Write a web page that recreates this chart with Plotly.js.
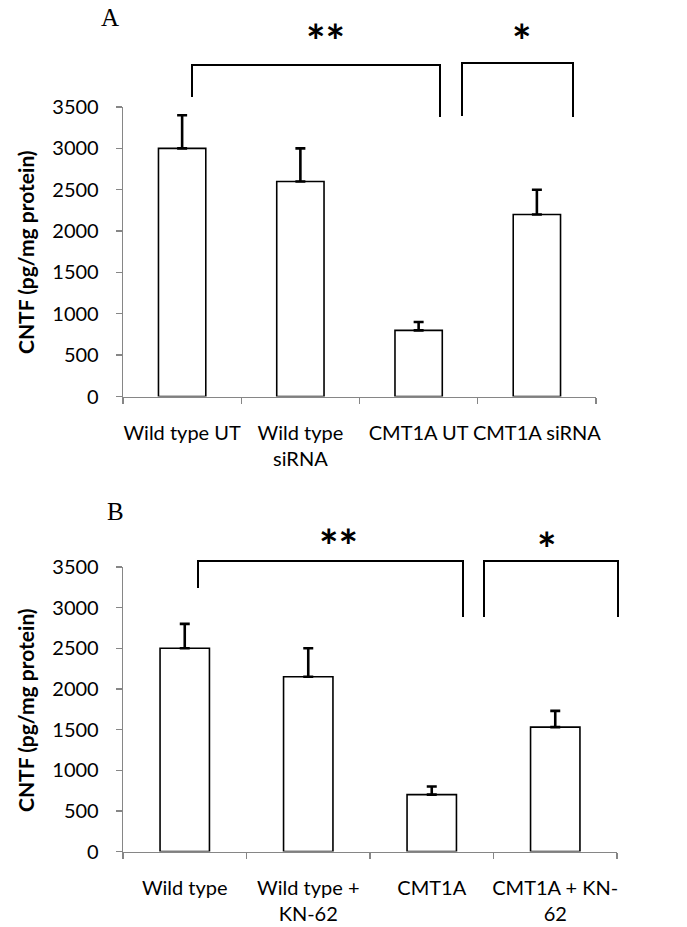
<!DOCTYPE html>
<html>
<head>
<meta charset="utf-8">
<script src="https://cdn.plot.ly/plotly-3.0.1.min.js"></script>
<style>html,body{margin:0;padding:0;background:#fff;}#chart{width:687px;height:927px;}</style>
</head>
<body>
<div id="chart"></div>
<script>
// ---- data ----
const categoriesA = ['Wild type UT', 'Wild type<br>siRNA', 'CMT1A UT', 'CMT1A siRNA'];
const valuesA = [3000, 2600, 800, 2200];
const errorsA = [400, 400, 100, 300];

const categoriesB = ['Wild type', 'Wild type +<br>KN-62', 'CMT1A', 'CMT1A + KN-<br>62'];
const valuesB = [2500, 2150, 700, 1530];
const errorsB = [300, 350, 100, 200];

const yTickVals = [0, 500, 1000, 1500, 2000, 2500, 3000, 3500];
const yTitle = 'CNTF (pg/mg protein)';
const panelLabels = ['A', 'B'];
const sigLabels = ['**', '*'];

// ---- layout helpers (pixel -> paper) ----
const W = 687, H = 927;
const px = x => x / W;
const py = y => 1 - y / H;

const axisGray = '#868686';
const tickFont = {family: 'Lato, sans-serif', size: 20, color: '#000'};

function barTrace(cats, vals, errs, xa, ya) {
  return {
    type: 'bar', x: cats, y: vals, xaxis: xa, yaxis: ya,
    marker: {color: '#ffffff', line: {color: '#000', width: 1.6}},
    error_y: {type: 'data', array: errs, arrayminus: errs.map(() => 0), symmetric: false,
              color: '#000', thickness: 2.6, width: 5},
    hoverinfo: 'none', showlegend: false
  };
}

function yAxis(domain) {
  return {
    domain: domain, range: [0, 3500], tickvals: yTickVals, ticktext: yTickVals.map(String),
    showline: true, linecolor: axisGray, linewidth: 1.3, ticks: 'outside', ticklen: 6,
    tickcolor: axisGray, tickwidth: 1.3, showgrid: false, zeroline: false,
    tickfont: tickFont, ticklabelstandoff: 13, fixedrange: true
  };
}
function xAxis(domain, cats, anchor) {
  return {
    domain: domain, anchor: anchor, type: 'category', categoryorder: 'array', categoryarray: cats,
    showline: true, linecolor: axisGray, linewidth: 1.3, ticks: 'outside', ticklen: 6,
    tickcolor: axisGray, tickwidth: 1.3, tickson: 'boundaries', showgrid: false, zeroline: false,
    tickfont: tickFont, tickangle: 0, ticklabelstandoff: 18, fixedrange: true
  };
}

const data = [
  barTrace(categoriesA, valuesA, errorsA, 'x', 'y'),
  barTrace(categoriesB, valuesB, errorsB, 'x2', 'y2')
];

const lineStyle = {color: '#000', width: 2};
function bracket(x1, yb1, ytop, x2, yb2) {
  return {type: 'path', xref: 'paper', yref: 'paper', line: lineStyle,
    path: `M${px(x1)},${py(yb1)} L${px(x1)},${py(ytop)} L${px(x2)},${py(ytop)} L${px(x2)},${py(yb2)}`};
}

function txt(text, x, y, font, extra) {
  return Object.assign({text: text, x: px(x), y: py(y), xref: 'paper', yref: 'paper',
    showarrow: false, xanchor: 'center', yanchor: 'middle', font: font}, extra || {});
}

const serif = {family: '"Liberation Serif", "Times New Roman", serif', size: 25, color: '#000'};
const starFont = {family: 'Lato, sans-serif', size: 46, color: '#000', weight: 'bold'};
const titleFont = {family: 'Lato, sans-serif', size: 21, color: '#000', weight: 'bold'};

const layout = {
  width: W, height: H, margin: {l: 0, r: 0, t: 0, b: 0},
  paper_bgcolor: '#fff', plot_bgcolor: '#fff', bargap: 0.6, showlegend: false,
  xaxis: xAxis([px(123), px(596)], categoriesA, 'y'),
  yaxis: yAxis([py(396.5), py(107)]),
  xaxis2: xAxis([px(123), px(617)], categoriesB, 'y2'),
  yaxis2: yAxis([py(851.5), py(567)]),
  shapes: [
    bracket(192, 97, 65, 440, 117),
    bracket(462, 116, 63, 573, 117),
    bracket(198, 588, 561, 463, 617),
    bracket(484, 617, 561, 618, 617)
  ],
  annotations: [
    txt(panelLabels[0], 110, 18, serif),
    txt(panelLabels[1], 115, 512, serif),
    txt(sigLabels[0], 325, 41, starFont),
    txt(sigLabels[1], 522, 41, starFont),
    txt(sigLabels[0], 338, 545, starFont),
    txt(sigLabels[1], 547, 548, starFont),
    txt('<b>' + yTitle + '</b>', 25, 252, titleFont, {textangle: -90}),
    txt('<b>' + yTitle + '</b>', 25, 710, titleFont, {textangle: -90})
  ]
};

Plotly.newPlot('chart', data, layout, {displayModeBar: false, staticPlot: true});
</script>
</body>
</html>
